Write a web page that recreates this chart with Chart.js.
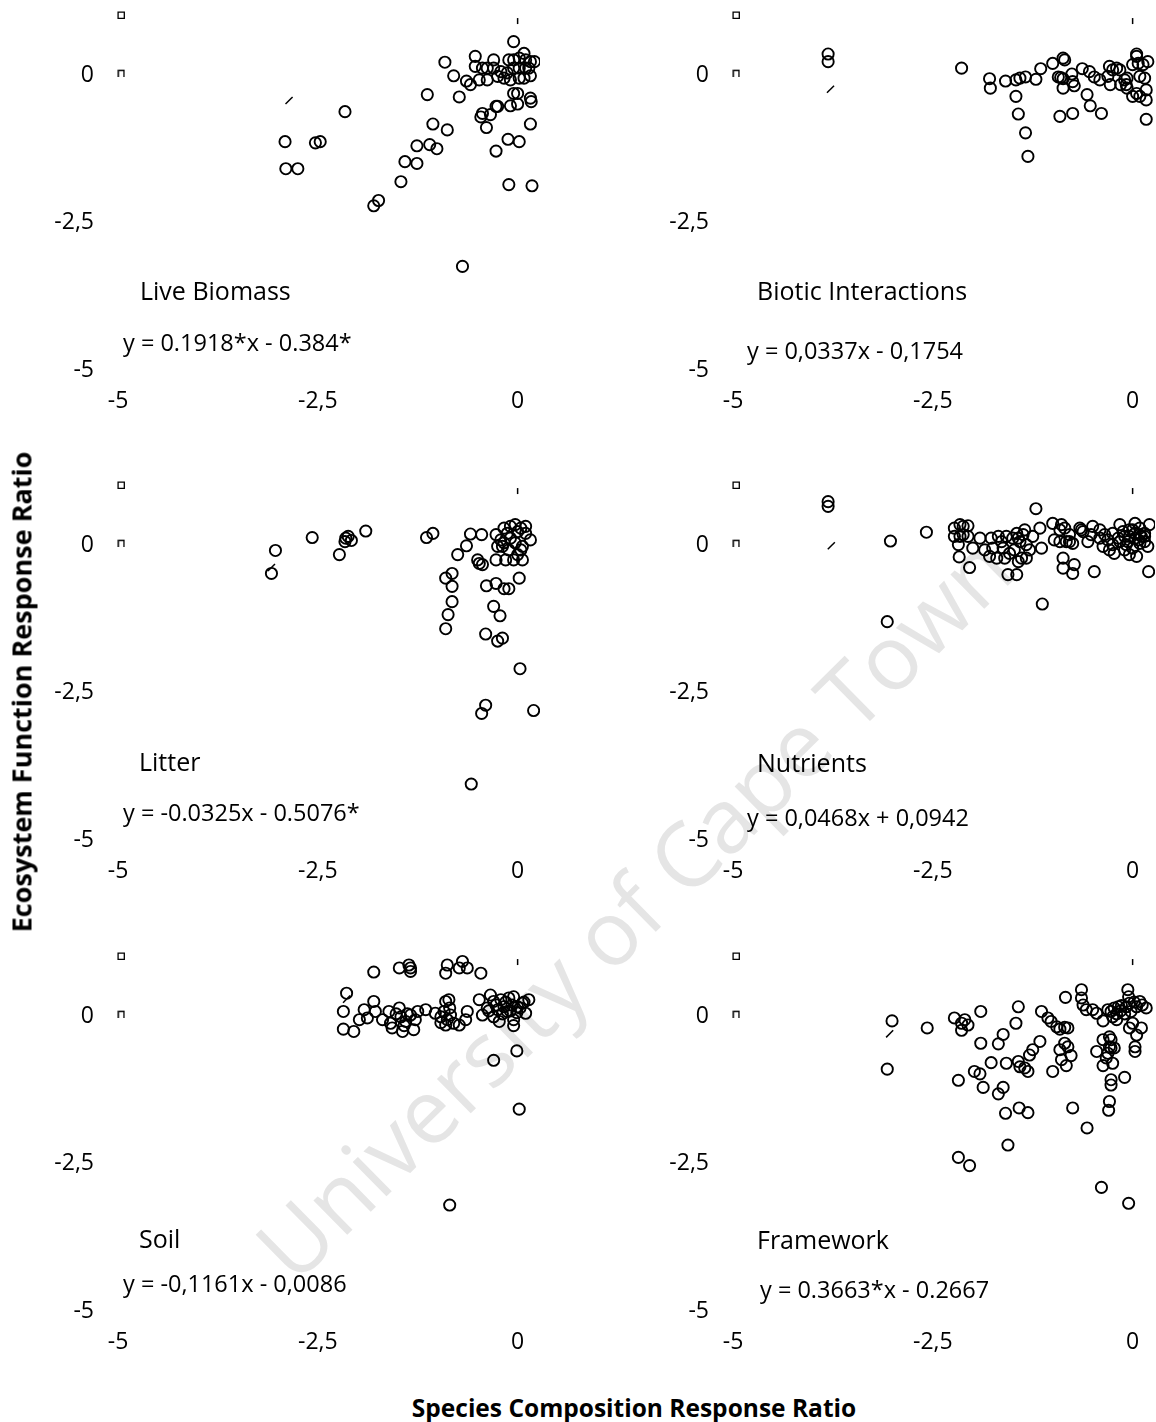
<!DOCTYPE html>
<html><head><meta charset="utf-8">
<script src="https://cdn.jsdelivr.net/npm/chart.js@4.4.1/dist/chart.umd.min.js"></script>
<style>
html,body{margin:0;padding:0;background:#fff;}
body{width:1156px;height:1422px;position:relative;overflow:hidden;font-family:'Open Sans',sans-serif;color:#000;}
.wm{position:absolute;left:632px;top:906px;transform:translate(-50%,-50%) rotate(-44.5deg);font-size:90px;color:#e5e5e5;white-space:nowrap;line-height:1;z-index:0;}
.panel{position:absolute;width:540px;height:420px;z-index:1;}
.lbl{position:absolute;white-space:nowrap;line-height:1;transform:translateY(-50%);z-index:2;}
.ttl{font-size:25px;}
.eq{font-size:23.5px;}
.axt{position:absolute;font-weight:bold;white-space:nowrap;line-height:1;z-index:2;}
</style></head>
<body>
<div class="wm">University of Cape Town</div>
<div id="root"></div>
<div class="axt" id="ytitle" style="left:21px;top:692px;font-size:27px;transform:translate(-50%,-50%) rotate(-90deg);">Ecosystem Function Response Ratio</div>
<div class="axt" id="xtitle" style="left:634px;top:1408px;font-size:24.5px;transform:translate(-50%,-50%);">Species Composition Response Ratio</div>
<script>
// ---------- DATA ----------
const xTickValues = [-5, -2.5, 0];
const yTickValues = [-5, -2.5, 0];
const panelTitles = ["Live Biomass","Biotic Interactions","Litter","Nutrients","Soil","Framework"];
const panelEquations = ["y = 0.1918*x - 0.384*","y = 0,0337x - 0,1754","y = -0.0325x - 0.5076*","y = 0,0468x + 0,0942","y = -0,1161x - 0,0086","y = 0.3663*x - 0.2667"];

const liveBiomass = [[-2.91,-1.17],[-2.90,-1.63],[-2.75,-1.63],[-2.53,-1.19],[-2.47,-1.17],[-2.16,-0.66],[-1.80,-2.26],[-1.74,-2.17],[-1.46,-1.85],[-1.41,-1.51],[-1.26,-1.54],[-1.26,-1.24],[-1.10,-1.22],[-1.01,-1.29],[-1.06,-0.87],[-0.88,-0.97],[-1.13,-0.37],[-0.91,0.18],[-0.80,-0.05],[-0.73,-0.41],[-0.69,-3.29],[-0.64,-0.14],[-0.59,-0.20],[-0.53,0.28],[-0.53,0.11],[-0.48,-0.12],[-0.38,-0.12],[-0.44,0.08],[-0.38,0.08],[-0.30,0.22],[-0.30,0.08],[-0.46,-0.75],[-0.44,-0.69],[-0.34,-0.71],[-0.39,-0.93],[-0.27,-0.57],[-0.25,-0.57],[-0.27,-1.33],[-0.25,-0.06],[-0.17,-0.09],[-0.21,0.02],[-0.13,0.0],[-0.12,-1.13],[-0.11,-1.90],[-0.09,-0.56],[-0.05,0.53],[-0.11,0.22],[-0.05,0.22],[0.02,0.25],[0.08,0.33],[0.10,0.22],[0.16,0.19],[0.21,0.19],[-0.05,0.08],[0.02,0.08],[0.10,0.08],[0.14,0.08],[-0.09,-0.12],[0.02,-0.09],[0.08,-0.09],[0.16,-0.05],[-0.05,-0.35],[0.0,-0.35],[0.0,-0.53],[0.02,-1.17],[0.16,-0.43],[0.17,-0.49],[0.16,-0.87],[0.18,-1.92]];

const bioticInteractions = [[-3.81,0.32],[-3.81,0.19],[-2.14,0.08],[-1.79,-0.10],[-1.78,-0.26],[-1.59,-0.14],[-1.46,-0.12],[-1.41,-0.09],[-1.34,-0.07],[-1.46,-0.40],[-1.43,-0.70],[-1.34,-1.02],[-1.31,-1.42],[-1.21,-0.11],[-1.15,0.07],[-1.00,0.16],[-0.87,0.25],[-0.85,0.22],[-0.93,-0.07],[-0.87,-0.10],[-0.90,-0.08],[-0.87,-0.26],[-0.91,-0.74],[-0.75,-0.69],[-0.76,-0.02],[-0.75,-0.15],[-0.73,-0.22],[-0.63,0.07],[-0.57,-0.37],[-0.54,0.02],[-0.53,-0.56],[-0.48,-0.07],[-0.41,-0.12],[-0.39,-0.69],[-0.31,-0.06],[-0.29,0.11],[-0.25,0.05],[-0.20,0.08],[-0.16,0.05],[-0.28,-0.20],[-0.15,-0.20],[-0.10,-0.12],[-0.08,-0.20],[-0.07,-0.26],[0.0,-0.40],[0.05,0.32],[0.05,0.28],[0.0,0.14],[0.07,0.16],[0.13,0.14],[0.19,0.19],[0.09,-0.06],[0.15,-0.09],[0.05,-0.35],[0.09,-0.40],[0.17,-0.29],[0.17,-0.46],[0.17,-0.79],[-0.07,-0.09]];

const litter = [[-3.03,-0.13],[-3.08,-0.52],[-2.57,0.09],[-2.23,-0.20],[-2.15,0.08],[-2.12,0.11],[-2.08,0.04],[-2.16,0.02],[-1.90,0.20],[-1.14,0.09],[-1.06,0.16],[-0.90,-0.60],[-0.82,-0.52],[-0.82,-0.74],[-0.82,-1.00],[-0.87,-1.22],[-0.90,-1.46],[-0.75,-0.20],[-0.64,-0.05],[-0.59,0.15],[-0.45,0.14],[-0.50,-0.29],[-0.48,-0.35],[-0.44,-0.37],[-0.39,-0.73],[-0.30,-1.08],[-0.22,-1.24],[-0.40,-1.55],[-0.25,-1.67],[-0.19,-1.62],[-0.27,-0.69],[-0.17,-0.78],[-0.11,-0.78],[0.02,-0.60],[0.03,-2.14],[-0.40,-2.76],[-0.45,-2.90],[0.20,-2.85],[-0.58,-4.10],[-0.27,0.14],[-0.17,0.25],[-0.09,0.28],[-0.03,0.31],[0.04,0.25],[0.10,0.28],[0.16,0.05],[0.10,0.16],[0.0,0.19],[-0.13,0.16],[-0.21,0.05],[-0.25,-0.06],[-0.17,0.0],[-0.09,0.08],[-0.03,0.0],[0.04,-0.12],[0.06,-0.06],[-0.11,-0.12],[0.0,-0.20],[-0.27,-0.29],[-0.15,-0.29],[-0.05,-0.29],[0.06,-0.29],[-0.19,-0.06]];

const nutrients = [[-3.81,0.70],[-3.81,0.62],[-3.03,0.03],[-3.07,-1.34],[-2.58,0.18],[-1.21,0.58],[-1.13,-1.04],[-0.48,-0.49],[0.20,-0.49],[-2.04,-0.42],[-2.16,0.31],[-2.12,0.28],[-2.06,0.29],[-2.23,0.11],[-2.16,0.11],[-2.12,0.14],[-2.18,-0.03],[-2.17,-0.24],[-2.00,-0.09],[-1.91,0.08],[-1.77,0.08],[-1.68,0.11],[-1.58,0.11],[-1.45,0.16],[-1.35,0.22],[-1.25,0.11],[-1.85,-0.12],[-1.79,-0.23],[-1.70,-0.26],[-1.62,-0.09],[-1.60,-0.26],[-1.54,-0.18],[-1.48,-0.12],[-1.41,0.02],[-1.33,-0.03],[-1.29,-0.12],[-1.43,-0.32],[-1.39,-0.26],[-1.33,-0.26],[-1.56,-0.54],[-1.45,-0.54],[-1.16,0.25],[-1.14,-0.09],[-1.00,0.33],[-0.89,0.31],[-0.85,0.25],[-0.79,0.14],[-0.66,0.25],[-0.62,0.19],[-0.98,0.05],[-0.91,0.02],[-0.83,0.02],[-0.75,-0.01],[-0.87,-0.26],[-0.87,-0.43],[-0.75,-0.52],[-0.73,-0.37],[-0.56,0.02],[-0.50,0.28],[-0.41,0.22],[-0.37,-0.06],[-0.31,0.05],[-0.25,0.16],[-0.16,0.31],[-0.10,0.11],[-0.04,0.22],[0.03,0.33],[0.09,0.25],[0.15,0.16],[0.21,0.31],[-0.29,-0.12],[-0.23,-0.18],[-0.10,-0.12],[-0.04,-0.20],[0.05,-0.23],[0.00,-0.09],[0.09,-0.01],[0.15,0.02],[0.19,-0.06],[-0.35,0.14],[-0.18,0.08],[-0.06,0.02],[0.03,0.08],[0.11,0.11],[-0.12,0.19],[-0.25,-0.03],[-0.41,0.08],[-0.52,0.14],[0.03,0.16],[0.09,0.14],[-0.04,0.11],[-0.16,0.02],[0.15,0.11],[0.07,0.05],[0.0,0.22],[-0.08,-0.03],[-0.91,0.22],[-0.79,0.02],[-0.64,0.22],[-1.50,0.08],[-1.43,0.08],[-1.37,0.14],[-1.75,-0.09],[-1.64,0.02],[-2.06,0.11],[-2.23,0.25]];

const soil = [[-1.80,0.71],[-1.48,0.78],[-1.36,0.83],[-1.34,0.78],[-1.34,0.72],[-0.88,0.83],[-0.90,0.69],[-0.69,0.89],[-0.73,0.78],[-0.63,0.78],[-0.46,0.69],[-2.14,0.35],[-2.18,0.04],[-2.18,-0.26],[-2.05,-0.30],[-1.98,-0.10],[-1.92,0.07],[-1.88,-0.07],[-1.80,0.21],[-1.78,0.04],[-1.69,-0.10],[-1.61,0.04],[-1.59,-0.16],[-1.57,-0.24],[-1.48,0.10],[-1.46,-0.05],[-1.44,-0.30],[-1.40,-0.13],[-1.34,-0.02],[-1.30,-0.27],[-1.28,-0.10],[-1.25,0.04],[-1.15,0.07],[-1.03,0.01],[-0.96,-0.05],[-0.90,0.21],[-0.86,0.24],[-0.92,0.04],[-0.88,-0.10],[-0.84,-0.02],[-0.80,-0.16],[-0.90,-0.19],[-0.73,-0.19],[-0.65,-0.10],[-0.63,0.04],[-0.48,0.24],[-0.44,-0.02],[-0.38,0.10],[-0.34,0.32],[-0.30,0.21],[-0.25,0.07],[-0.21,0.24],[-0.17,0.12],[-0.11,0.27],[-0.07,0.15],[-0.05,0.29],[0.0,0.12],[0.06,0.18],[0.10,0.01],[0.14,0.24],[-0.30,-0.05],[-0.23,-0.13],[-0.13,0.04],[-0.05,-0.10],[-0.05,-0.20],[-0.30,-0.79],[-0.01,-0.63],[0.02,-1.62],[-0.85,-3.25],[-0.15,0.20],[-0.27,0.15],[-0.09,0.05],[0.03,0.10],[-0.19,0.0],[-0.36,0.05],[0.08,0.20],[-0.01,0.02],[-1.52,0.0],[-1.38,0.0],[-1.42,-0.20],[-0.96,-0.15],[-0.85,0.10]];

const framework = [[-3.01,-0.12],[-3.07,-0.94],[-2.57,-0.24],[-2.23,-0.07],[-2.14,-0.16],[-2.10,-0.10],[-2.06,-0.19],[-2.14,-0.28],[-1.90,0.04],[-1.90,-0.50],[-2.18,-1.13],[-1.98,-0.98],[-1.91,-1.02],[-1.87,-1.25],[-1.77,-0.83],[-1.68,-0.51],[-1.62,-0.35],[-1.68,-1.36],[-1.62,-1.25],[-1.59,-1.69],[-1.56,-2.23],[-1.58,-0.84],[-1.46,-0.16],[-1.43,0.12],[-1.43,-0.81],[-1.41,-0.90],[-1.35,-0.92],[-1.31,-0.98],[-1.29,-0.70],[-1.25,-0.61],[-1.16,-0.47],[-1.42,-1.60],[-1.31,-1.68],[-1.14,0.04],[-1.06,-0.07],[-1.02,-0.13],[-0.95,-0.22],[-0.91,-0.26],[-0.85,-0.23],[-0.81,-0.24],[-0.84,0.28],[-1.00,-0.98],[-0.91,-0.61],[-0.89,-0.78],[-0.85,-0.50],[-0.81,-0.56],[-0.77,-0.71],[-0.83,-0.88],[-0.75,-1.60],[-0.57,-1.94],[-0.64,0.41],[-0.64,0.27],[-0.62,0.15],[-0.58,0.07],[-0.50,0.07],[-0.45,0.01],[-0.37,-0.12],[-0.31,0.07],[-0.27,0.04],[-0.23,0.10],[-0.18,0.12],[-0.14,0.14],[-0.08,0.12],[-0.04,0.18],[0.09,0.21],[0.17,0.10],[-0.02,0.04],[0.05,0.12],[-0.06,0.41],[-0.05,0.29],[0.00,-0.16],[-0.04,-0.24],[0.11,-0.24],[0.05,-0.36],[-0.29,-0.39],[-0.27,-0.44],[-0.37,-0.44],[-0.29,-0.56],[-0.31,-0.67],[-0.33,-0.75],[-0.27,-0.58],[-0.23,-0.58],[-0.45,-0.64],[-0.37,-0.88],[-0.25,-0.84],[-0.27,-1.12],[-0.27,-1.21],[-0.29,-1.49],[-0.30,-1.64],[-0.10,-1.08],[0.03,-0.56],[0.03,-0.64],[-0.39,-2.95],[-0.05,-3.22],[-2.18,-2.44],[-2.04,-2.58],[-0.20,0.0],[-0.25,-0.05],[-0.15,0.05],[-0.10,0.0],[-0.20,-0.10],[0.02,0.20],[0.12,0.15]];

// small stray marks visible in every panel of the original
const squareMark = [-4.96, 0.98];
const capMark = [-4.96, 0.0];
const tickMark = [0.0, 0.88];
const slashMarks = [[-2.86,-0.47],[-3.78,-0.28],[-3.08,-0.42],[-3.77,-0.05],[-2.14,0.25],[-3.04,-0.34]];

const panelSeries = [liveBiomass, bioticInteractions, litter, nutrients, soil, framework];

// ---------- LAYOUT / STYLE ----------
const colLeft = [0, 615];
const rowTop = [0, 470, 941];
const titlePos = [[140,290],[757,290],[139,761],[757,762],[139,1238],[757,1239]];
const eqPos = [[123,343],[747,351],[123,813],[747,818],[123,1284],[760,1290]];

function capStyle(){
  const c = document.createElement('canvas'); c.width = 8; c.height = 8;
  const g = c.getContext('2d'); g.strokeStyle = '#000'; g.lineWidth = 1.4;
  g.beginPath(); g.moveTo(1.2,8); g.lineTo(1.2,1.5); g.lineTo(6.8,1.5); g.lineTo(6.8,8); g.stroke();
  return c;
}
const capImg = capStyle();
const fmt = v => String(v).replace('.', ',');
const tickFont = {family:"'Open Sans'", size:23};
function noPad(s){ s.paddingTop = 0; s.paddingBottom = 0; s.paddingLeft = 0; s.paddingRight = 0; }

const root = document.getElementById('root');
panelSeries.forEach((series, i) => {
  const col = i % 2, row = Math.floor(i / 2);
  const div = document.createElement('div');
  div.className = 'panel';
  div.style.left = colLeft[col] + 'px';
  div.style.top = rowTop[row] + 'px';
  const cv = document.createElement('canvas');
  cv.width = 540; cv.height = 420;
  div.appendChild(cv);
  root.appendChild(div);

  const t = document.createElement('div'); t.className = 'lbl ttl';
  t.style.left = titlePos[i][0] + 'px'; t.style.top = titlePos[i][1] + 'px';
  t.textContent = panelTitles[i]; document.body.appendChild(t);
  const e = document.createElement('div'); e.className = 'lbl eq';
  e.style.left = eqPos[i][0] + 'px'; e.style.top = eqPos[i][1] + 'px';
  e.textContent = panelEquations[i]; document.body.appendChild(e);

  const toXY = p => ({x:p[0], y:p[1]});
  new Chart(cv, {
    type: 'scatter',
    data: {datasets: [
      {data: series.map(toXY), pointStyle:'circle', pointRadius:5.6, borderWidth:1.9,
       borderColor:'#000', backgroundColor:'rgba(0,0,0,0)', clip:false},
      {data: [toXY(squareMark)], pointStyle:'rect', pointRadius:4.4, borderWidth:1.3,
       borderColor:'#000', backgroundColor:'rgba(0,0,0,0)', clip:false},
      {data: [toXY(capMark)], pointStyle:capImg, clip:false},
      {data: [toXY(tickMark)], pointStyle:'line', pointRotation:90, pointRadius:3, borderWidth:1.5,
       borderColor:'#000', clip:false},
      {data: [toXY(slashMarks[i])], pointStyle:'line', pointRotation:-45, pointRadius:5, borderWidth:1.5,
       borderColor:'#000', clip:false}
    ]},
    options: {
      responsive:false, animation:false, devicePixelRatio:1,
      layout:{autoPadding:false, padding:{top:14, right:0, left:0, bottom:0}},
      plugins:{legend:{display:false}, tooltip:{enabled:false}},
      scales:{
        x:{type:'linear', min:-5, max:0.28,
           grid:{display:false, drawTicks:false}, border:{display:false},
           afterBuildTicks: s => { s.ticks = xTickValues.map(v => ({value:v})); },
           afterFit: s => { s.height = 53; noPad(s); },
           ticks:{callback: v => fmt(v), font:tickFont, color:'#000', padding:21, maxRotation:0, autoSkip:false}},
        y:{type:'linear', min:-5, max:1,
           grid:{display:false, drawTicks:false}, border:{display:false},
           afterBuildTicks: s => { s.ticks = yTickValues.map(v => ({value:v})); },
           afterFit: s => { s.width = 118; noPad(s); },
           ticks:{callback: v => fmt(v), font:tickFont, color:'#000', padding:24, labelOffset:3, autoSkip:false}}
      }
    }
  });
});
</script>
</body></html>
